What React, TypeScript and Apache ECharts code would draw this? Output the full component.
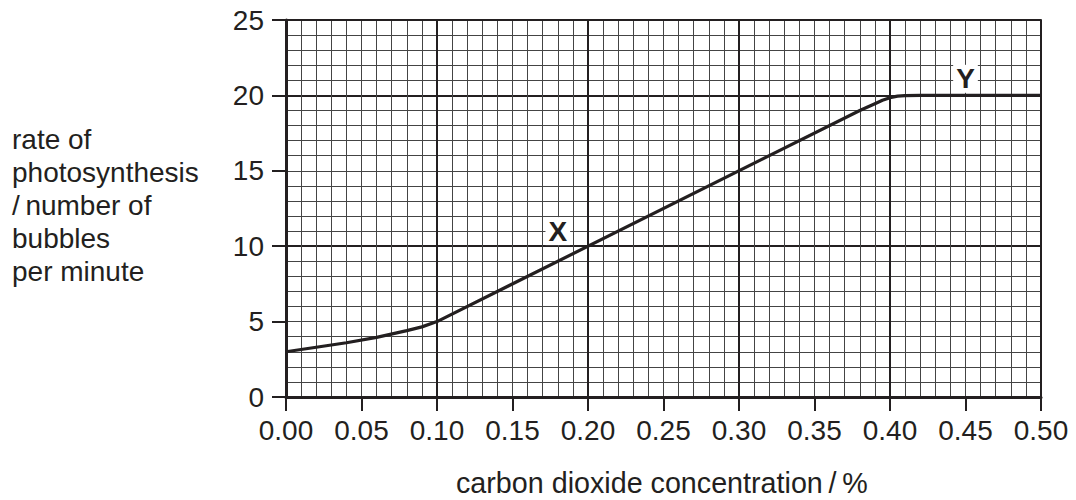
import React, { useEffect, useRef } from "react";
import * as echarts from "echarts";

const xValues = [0, 0.02, 0.04, 0.06, 0.08, 0.09, 0.1, 0.38, 0.39, 0.395, 0.4, 0.405, 0.41, 0.42, 0.5];
const yValues = [3, 3.3, 3.6, 3.95, 4.4, 4.65, 5, 19, 19.45, 19.68, 19.85, 19.95, 19.99, 20, 20];
const pointLabels = [
  { x: 0.18, y: 11, text: "X" },
  { x: 0.45, y: 21.1, text: "Y" },
];
const yAxisTitle = ["rate of", "photosynthesis", "/\u2009number of", "bubbles", "per minute"];
const xAxisTitle = "carbon dioxide concentration\u2009/\u2009%";

const INK = "#231f20";
const FONT = "'Liberation Sans', Arial, sans-serif";

export default function App() {
  const ref = useRef<HTMLDivElement>(null);
  useEffect(() => {
    if (!ref.current) return;
    const chart = echarts.init(ref.current, undefined, { renderer: "svg" });
    const minor = { show: true, lineStyle: { color: "#444444", width: 1 } };
    const major = { show: true, lineStyle: { color: INK, width: 2 } };
    chart.setOption({
      animation: false,
      backgroundColor: "#ffffff",
      textStyle: { fontFamily: FONT, color: INK },
      grid: { left: 286, right: 35, top: 20, bottom: 103, containLabel: false },
      xAxis: [
        {
          type: "value",
          min: 0,
          max: 0.5,
          interval: 0.05,
          position: "bottom",
          axisLine: { show: true, onZero: false, lineStyle: { color: INK, width: 3 } },
          axisTick: { show: true, length: 14, lineStyle: { color: INK, width: 2 } },
          axisLabel: {
            fontSize: 28,
            color: INK,
            fontFamily: FONT,
            margin: 19,
            formatter: (v: number) => v.toFixed(2),
          },
          splitLine: minor,
          minorTick: { show: false, splitNumber: 5 },
          minorSplitLine: minor,
        },
        {
          type: "value",
          min: 0,
          max: 0.5,
          interval: 0.1,
          position: "top",
          axisLine: { show: true, onZero: false, lineStyle: { color: INK, width: 2 } },
          axisTick: { show: false },
          axisLabel: { show: false },
          splitLine: major,
        },
      ],
      yAxis: [
        {
          type: "value",
          min: 0,
          max: 25,
          interval: 5,
          position: "left",
          axisLine: { show: true, onZero: false, lineStyle: { color: INK, width: 3 } },
          axisTick: { show: true, length: 14, lineStyle: { color: INK, width: 2 } },
          axisLabel: { fontSize: 28, color: INK, fontFamily: FONT, margin: 22 },
          splitLine: minor,
          minorTick: { show: false, splitNumber: 5 },
          minorSplitLine: minor,
        },
        {
          type: "value",
          min: 0,
          max: 25,
          interval: 10,
          position: "right",
          axisLine: { show: false },
          axisTick: { show: false },
          axisLabel: { show: false },
          splitLine: major,
        },
      ],
      graphic: [
        {
          type: "text",
          left: 12,
          top: 123,
          style: {
            text: yAxisTitle.join("\n"),
            fontSize: 28,
            lineHeight: 33,
            fontFamily: FONT,
            fill: INK,
          },
        },
        {
          type: "text",
          left: 456,
          top: 468,
          style: { text: xAxisTitle, fontSize: 28.7, fontFamily: FONT, fill: INK },
        },
        {
          type: "line",
          shape: { x1: 1041, y1: 20, x2: 1041, y2: 397 },
          style: { stroke: INK, lineWidth: 2 },
        },
      ],
      series: [
        {
          type: "line",
          xAxisIndex: 0,
          yAxisIndex: 0,
          data: xValues.map((x, i) => [x, yValues[i]]),
          showSymbol: false,
          smooth: false,
          lineStyle: { color: INK, width: 3.2, join: "round" },
          z: 5,
        },
        {
          type: "scatter",
          xAxisIndex: 0,
          yAxisIndex: 0,
          symbolSize: 1,
          itemStyle: { opacity: 1, color: "rgba(0,0,0,0)" },
          data: pointLabels.map((p) => ({ value: [p.x, p.y], name: p.text })),
          label: {
            show: true,
            position: "inside",
            formatter: (p: any) => p.name,
            fontSize: 28,
            fontWeight: "bold",
            fontFamily: FONT,
            color: INK,
            opacity: 1,
            backgroundColor: "#ffffff",
            padding: [0, 3],
          },
          z: 6,
        },
      ],
    });
    return () => chart.dispose();
  }, []);
  return (
    <div
      ref={ref}
      style={{ position: "absolute", left: 0, top: 0, width: 1076, height: 500 }}
    />
  );
}
